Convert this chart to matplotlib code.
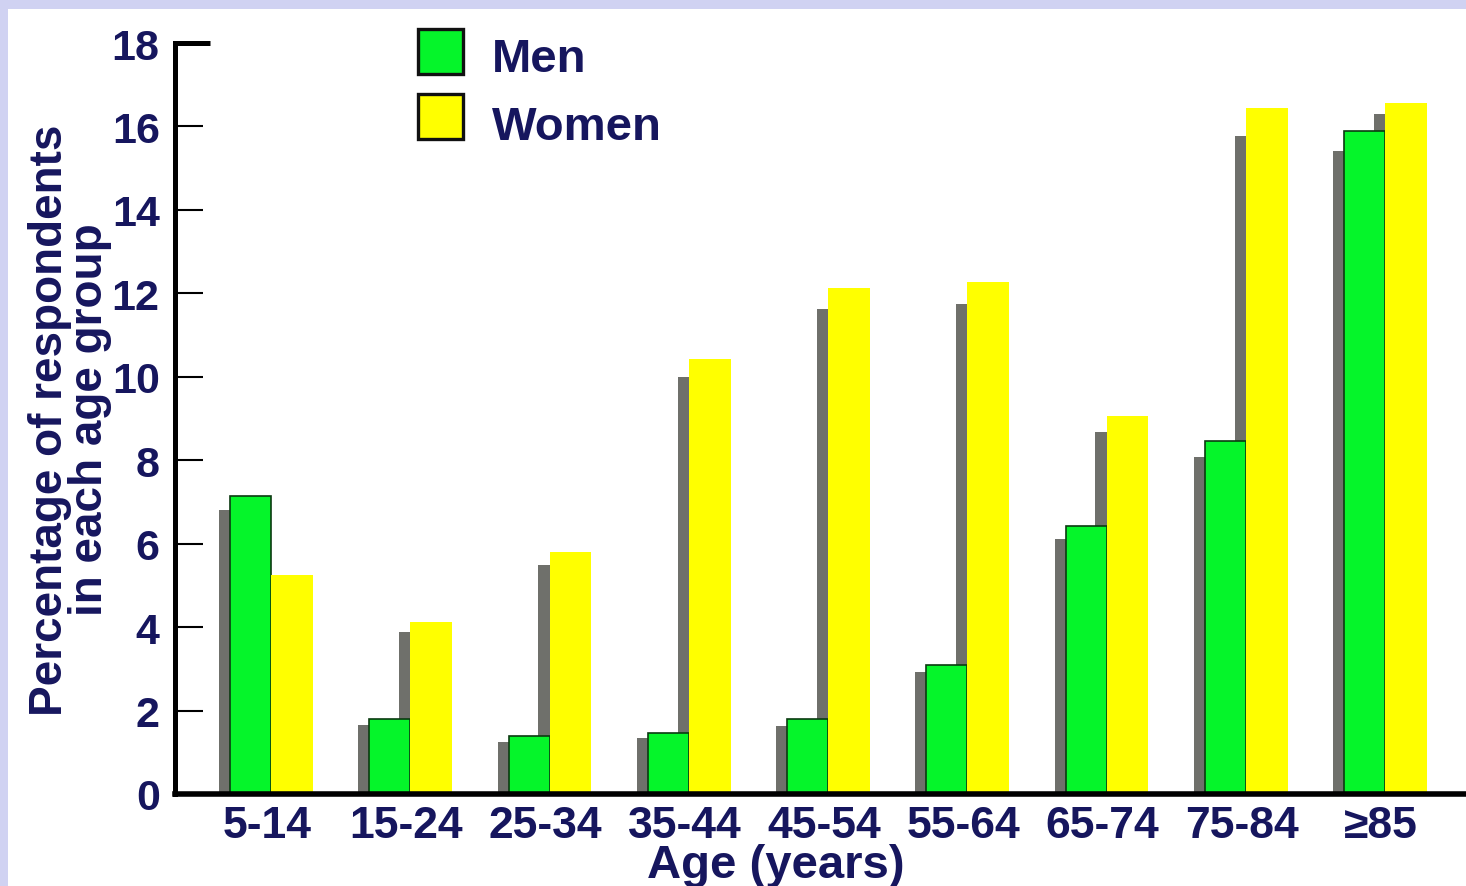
import matplotlib
matplotlib.use("Agg")
import matplotlib.pyplot as plt
from matplotlib.patches import Rectangle
import numpy as np


AGE_GROUPS = ["5-14", "15-24", "25-34", "35-44", "45-54",
              "55-64", "65-74", "75-84", "\u226585"]

# percentage of respondents (front bars)
MEN = [7.14, 1.80, 1.40, 1.46, 1.80, 3.09, 6.42, 8.46, 15.90]
WOMEN = [5.25, 4.12, 5.80, 10.43, 12.13, 12.27, 9.06, 16.44, 16.56]

# heights of the grey "3D" shadows drawn behind each bar
MEN_SHADOW = [6.80, 1.65, 1.25, 1.34, 1.63, 2.92, 6.11, 8.08, 15.40]
WOMEN_SHADOW = [5.25, 3.88, 5.49, 10.00, 11.63, 11.75, 8.68, 15.77, 16.30]

Y_TICKS = [0, 2, 4, 6, 8, 10, 12, 14, 16, 18]

NAVY = "#16165e"
GREEN = "#05f52a"
YELLOW = "#ffff00"
SHADOW = "#6f706b"
FRAME = "#d0d2f2"

W, H = 1466, 887


def main():
    plt.rcParams["font.family"] = ["Liberation Sans", "DejaVu Sans"]
    plt.rcParams["font.weight"] = "bold"

    fig = plt.figure(figsize=(W / 100, H / 100), dpi=100, facecolor=FRAME)
    # white slide panel inside the lavender frame
    fig.add_artist(Rectangle((8 / W, 0), 1, (H - 10) / H,
                             transform=fig.transFigure, facecolor="white",
                             edgecolor="none", zorder=-5))

    ax = fig.add_axes([175 / W, 92 / H, 1 - 175 / W, (795 - 44) / H])
    ax.set_facecolor("none")

    x = np.arange(len(AGE_GROUPS))
    bw = 0.294
    off = 0.079

    ax.bar(x - bw - off, MEN_SHADOW, width=bw, align="edge",
           color=SHADOW, zorder=1)
    ax.bar(x - off, WOMEN_SHADOW, width=0.30, align="edge",
           color=SHADOW, zorder=1)
    ax.bar(x - bw, MEN, width=bw, align="edge", color=GREEN,
           edgecolor="#0b3a10", linewidth=1.2, zorder=2)
    ax.bar(x, WOMEN, width=0.30, align="edge", color=YELLOW, zorder=2)

    ax.set_xlim((175 - 271) / 139.25, (W - 271) / 139.25)
    ax.set_ylim(0, 18)

    for side in ["top", "right"]:
        ax.spines[side].set_visible(False)
    ax.spines["left"].set_linewidth(3.6)
    ax.spines["bottom"].set_linewidth(4.0)
    ax.spines["left"].set_zorder(5)
    ax.spines["bottom"].set_zorder(5)

    ax.set_yticks(Y_TICKS)
    ax.set_yticklabels([str(t) for t in Y_TICKS])
    ax.tick_params(axis="y", direction="in", length=20, width=1.5,
                   pad=11, labelsize=31, labelcolor=NAVY, color="black")
    # heavier top tick
    ax.plot([0, 0.027], [18, 18], color="black", lw=3.6,
            transform=ax.get_yaxis_transform(), clip_on=False, zorder=6,
            solid_capstyle="butt")

    ax.set_xticks(x - 0.03)
    ax.set_xticklabels(AGE_GROUPS)
    ax.tick_params(axis="x", length=0, pad=8, labelsize=32, labelcolor=NAVY)

    fig.text(776 / W, (H - 878) / H, "Age (years)", ha="center",
             va="baseline", fontsize=34, color=NAVY, fontweight="bold")
    fig.text(70 / W, (H - 420) / H,
             "Percentage of respondents\nin each age group",
             rotation=90, ha="center", va="center", multialignment="center",
             fontsize=33, color=NAVY, fontweight="bold", linespacing=0.9)

    # legend, drawn by hand so the squares sit where the slide has them
    for (label, col, top, base) in [("Men", GREEN, 30, 72),
                                    ("Women", YELLOW, 95, 140)]:
        fig.add_artist(Rectangle((418 / W, (H - top - 45) / H), 45 / W, 45 / H,
                                 transform=fig.transFigure, facecolor=col,
                                 edgecolor="#111111", linewidth=2.4))
        fig.text(492 / W, (H - base) / H, label, ha="left", va="baseline",
                 fontsize=34, color=NAVY, fontweight="bold")

    fig.savefig("out.png", dpi=100, facecolor=FRAME)
    plt.close(fig)


if __name__ == "__main__":
    main()
